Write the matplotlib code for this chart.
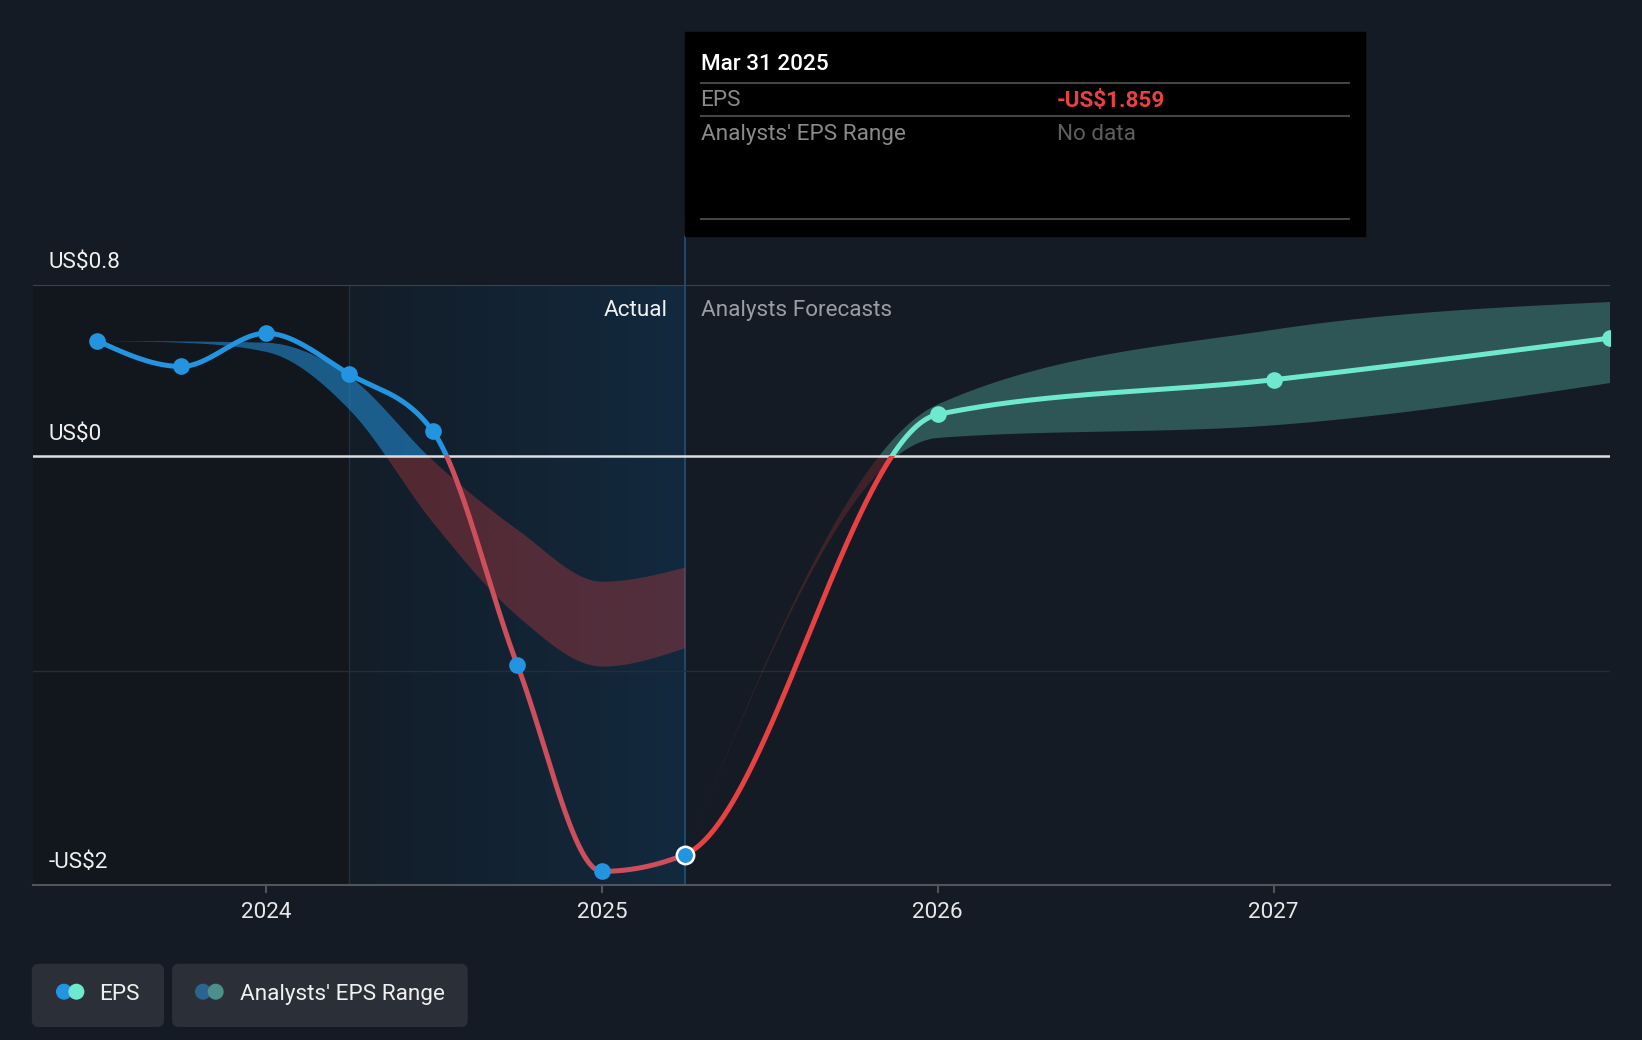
import numpy as np
import pandas as pd
import matplotlib
matplotlib.use('Agg')
import matplotlib.pyplot as plt
from matplotlib.patches import Rectangle, FancyBboxPatch, Circle

plt.rcParams['font.family'] = ['Roboto', 'DejaVu Sans']

# quarterly actuals (EPS, US$) and the analysts' range band
past_dates = ['2023-06-30', '2023-09-30', '2023-12-31', '2024-03-31',
              '2024-06-30', '2024-09-30', '2024-12-31', '2025-03-31']
past_eps = [0.540, 0.419, 0.574, 0.383, 0.116, -0.975, -1.937, -1.859]
past_hi = [0.540, 0.538, 0.532, 0.372, -0.020, -0.342, -0.583, -0.517]
past_lo = [0.540, 0.532, 0.489, 0.217, -0.310, -0.745, -0.979, -0.893]

# forecasts
fc_dates = ['2025-03-31', '2025-12-31', '2026-12-31', '2027-12-31']
fc_eps = [-1.859, 0.195, 0.357, 0.551]
fc_hi = [-1.859, 0.245, 0.593, 0.722]
fc_lo = [-1.859, 0.088, 0.147, 0.344]

year_ticks = [2024, 2025, 2026, 2027]
y_labels = [(0.8, 'US$0.8'), (0.0, 'US$0'), (-2.0, '-US$2')]

BG = '#151b24'
BLUE = '#2394df'
TEAL = '#6ee9d0'
RED_PAST = '#cc4f5b'
RED = '#e84142'
FS = 16.2
DY = 2.5  # small baseline nudge for fig texts


def to_year(dates):
    d = pd.to_datetime(pd.Series(dates))
    days = np.where(d.dt.is_leap_year, 366, 365)
    return (d.dt.year + d.dt.dayofyear / days).to_numpy(dtype=float)


def monotone(xs, ys, n=400):
    # d3 curveMonotoneX
    xs = np.asarray(xs, float)
    ys = np.asarray(ys, float)
    h = np.diff(xs)
    s = np.diff(ys) / h
    m = np.zeros(len(xs))
    sg = lambda v: -1.0 if v < 0 else 1.0
    for i in range(1, len(xs) - 1):
        p = (s[i - 1] * h[i] + s[i] * h[i - 1]) / (h[i - 1] + h[i])
        m[i] = (sg(s[i - 1]) + sg(s[i])) * min(abs(s[i - 1]), abs(s[i]), 0.5 * abs(p))
    m[0] = (3 * s[0] - m[1]) / 2
    m[-1] = (3 * s[-1] - m[-2]) / 2
    out_x, out_y = [], []
    for i in range(len(xs) - 1):
        t = np.linspace(0, 1, n)
        h00 = 2 * t**3 - 3 * t**2 + 1
        h10 = t**3 - 2 * t**2 + t
        h01 = -2 * t**3 + 3 * t**2
        h11 = t**3 - t**2
        out_x.append(xs[i] + t * h[i])
        out_y.append(h00 * ys[i] + h10 * h[i] * m[i] + h01 * ys[i + 1] + h11 * h[i] * m[i + 1])
    return np.concatenate(out_x), np.concatenate(out_y)


W, H = 1642, 1040
fig = plt.figure(figsize=(W / 100, H / 100), dpi=100, facecolor=BG)
ax_l, ax_r, ax_t, ax_b = 32.5, 1609.5, 284.8, 884.9
ax = fig.add_axes([ax_l / W, 1 - ax_b / H, (ax_r - ax_l) / W, (ax_b - ax_t) / H])
ax.set_facecolor(BG)

px = to_year(past_dates)
fx = to_year(fc_dates)
x0, x1 = 2023.305, fx[-1]
ax.set_xlim(x0, x1)
ax.set_ylim(-2, 0.8)

# background regions
split = px[3]
now = px[-1]
ax.axvspan(x0, split, color='#12161d', zorder=0, lw=0)
grad = np.zeros((2, 256, 4))
c_left = np.array([0x13, 0x1d, 0x28]) / 255
c_right = np.array([0x12, 0x29, 0x3e]) / 255
for k, f in enumerate(np.linspace(0, 1, 256)):
    grad[:, k, :3] = c_left * (1 - f) + c_right * f
grad[:, :, 3] = 1
ax.imshow(grad, extent=[split, now, -2, 0.8], aspect='auto', zorder=0, interpolation='bilinear')
ax.axvline(split, color='#1b3246', lw=1, zorder=0.5)
ax.axvline(now, ymin=0, ymax=(ax_b - 235.6) / (ax_b - ax_t), color='#21507a', lw=1.2,
           zorder=0.5, clip_on=False)

# grid
ax.axhline(0.8, color='#3e434b', lw=1.5, zorder=1)
ax.axhline(-1, color='#272d36', lw=1, zorder=1)
ax.axhline(0, color='#dedede', lw=1.8, zorder=2.5)


def clipped(artist, positive, xa=2000, xb=2050):
    y0 = 0 if positive else -10
    artist.set_clip_path(Rectangle((xa, y0), xb - xa, 10, transform=ax.transData))


def band(x, lo, hi, c_pos, a_pos, c_neg, a_neg):
    bx, bl = monotone(x, lo)
    _, bh = monotone(x, hi)
    for pos, c, a in ((True, c_pos, a_pos), (False, c_neg, a_neg)):
        pc = ax.fill_between(bx, bl, bh, color=c, alpha=a, lw=0, zorder=2)
        clipped(pc, pos)


band(px, past_lo, past_hi, BLUE, 0.55, RED, 0.3)
band(fx, fc_lo, fc_hi, '#5fc6b6', 0.35, RED, 0.2)

# one smooth EPS curve through actuals and forecasts, coloured by period and sign
all_x = np.concatenate([px, fx[1:]])
all_y = np.concatenate([past_eps, fc_eps[1:]])
lx, ly = monotone(all_x, all_y)
for (xa, xb), c_pos, c_neg in (((2000, now), BLUE, RED_PAST), ((now, 2050), TEAL, RED)):
    for pos, c in ((True, c_pos), (False, c_neg)):
        ln, = ax.plot(lx, ly, color=c, lw=3.6, zorder=3, solid_capstyle='butt')
        clipped(ln, pos, xa, xb)

ax.plot(px[:-1], past_eps[:-1], 'o', color=BLUE, ms=12, mew=0, zorder=4)
ax.plot(fx[1:], fc_eps[1:], 'o', color=TEAL, ms=12, mew=0, zorder=4)
ax.plot(px[-1], past_eps[-1], 'o', color=BLUE, ms=12.5, mec='white', mew=1.8, zorder=5)

# axes styling
for side in ('top', 'left', 'right'):
    ax.spines[side].set_visible(False)
ax.spines['bottom'].set_color('#50545b')
ax.spines['bottom'].set_linewidth(1.5)
ax.set_yticks([])
ax.set_xticks(year_ticks)
ax.set_xticklabels([str(y) for y in year_ticks])
ax.tick_params(axis='x', length=6, width=1.5, color='#50545b', labelcolor='#e8e8e8',
               labelsize=FS, pad=6)


def fpos(x, y):
    return x / W, 1 - (y + DY) / H


for v, lab in y_labels:
    yy = {0.8: 259.7, 0.0: 431.5, -2.0: 859.8}[v]
    fig.text(*fpos(48.2, yy), lab, color='#f0f0f0', fontsize=FS, va='center', ha='left')

fig.text(*fpos(668, 308), 'Actual', color='#f0f0f0', fontsize=FS, va='center', ha='right')
fig.text(*fpos(700.6, 308), 'Analysts Forecasts', color='#9a9ea4', fontsize=FS,
         va='center', ha='left')

# tooltip
fig.patches.append(Rectangle((685 / W, 1 - 235.6 / H), (1364.5 - 685) / W, (235.6 - 32.5) / H,
                             transform=fig.transFigure, color='black', zorder=10))
for yy in (82.7, 116.2, 218.9):
    fig.add_artist(plt.Line2D([700.6 / W, 1348.8 / W], [1 - yy / H] * 2,
                              transform=fig.transFigure, color='#444444', lw=1.5, zorder=11))
fig.text(*fpos(700.6, 62), 'Mar 31 2025', color='white', fontsize=FS, fontweight='medium',
         va='center', zorder=12)
fig.text(*fpos(700.6, 98.5), 'EPS', color='#8a8a8a', fontsize=FS, va='center', zorder=12)
fig.text(*fpos(1056.6, 98.5), '-US$1.859', color=RED, fontsize=FS, fontweight='bold',
         va='center', zorder=12)
fig.text(*fpos(700.6, 132), "Analysts' EPS Range", color='#8a8a8a', fontsize=FS,
         va='center', zorder=12)
fig.text(*fpos(1056.6, 132), 'No data', color='#5e5e5e', fontsize=FS, va='center', zorder=12)

# legend chips (in inches)
inch = fig.dpi_scale_trans
for (l, r) in ((32.5, 163.4), (172.8, 467.0)):
    fig.patches.append(FancyBboxPatch((l / 100, (H - 1026.3) / 100), (r - l) / 100, 0.618,
                                      boxstyle='round,pad=0,rounding_size=0.06',
                                      transform=inch, color='#2a2f38', zorder=10))
for cx, c in ((64, BLUE), (76.4, TEAL), (203, '#2a6590'), (215.7, '#4e9089')):
    fig.patches.append(Circle((cx / 100, (H - 991.7) / 100), 0.073, transform=inch,
                              color=c, zorder=11))
fig.text(*fpos(99.5, 991.7), 'EPS', color='#f0f0f0', fontsize=FS, va='center', zorder=12)
fig.text(*fpos(239.8, 991.7), "Analysts' EPS Range", color='#f0f0f0', fontsize=FS,
         va='center', zorder=12)

fig.savefig('out.png', dpi=100, facecolor=BG)
